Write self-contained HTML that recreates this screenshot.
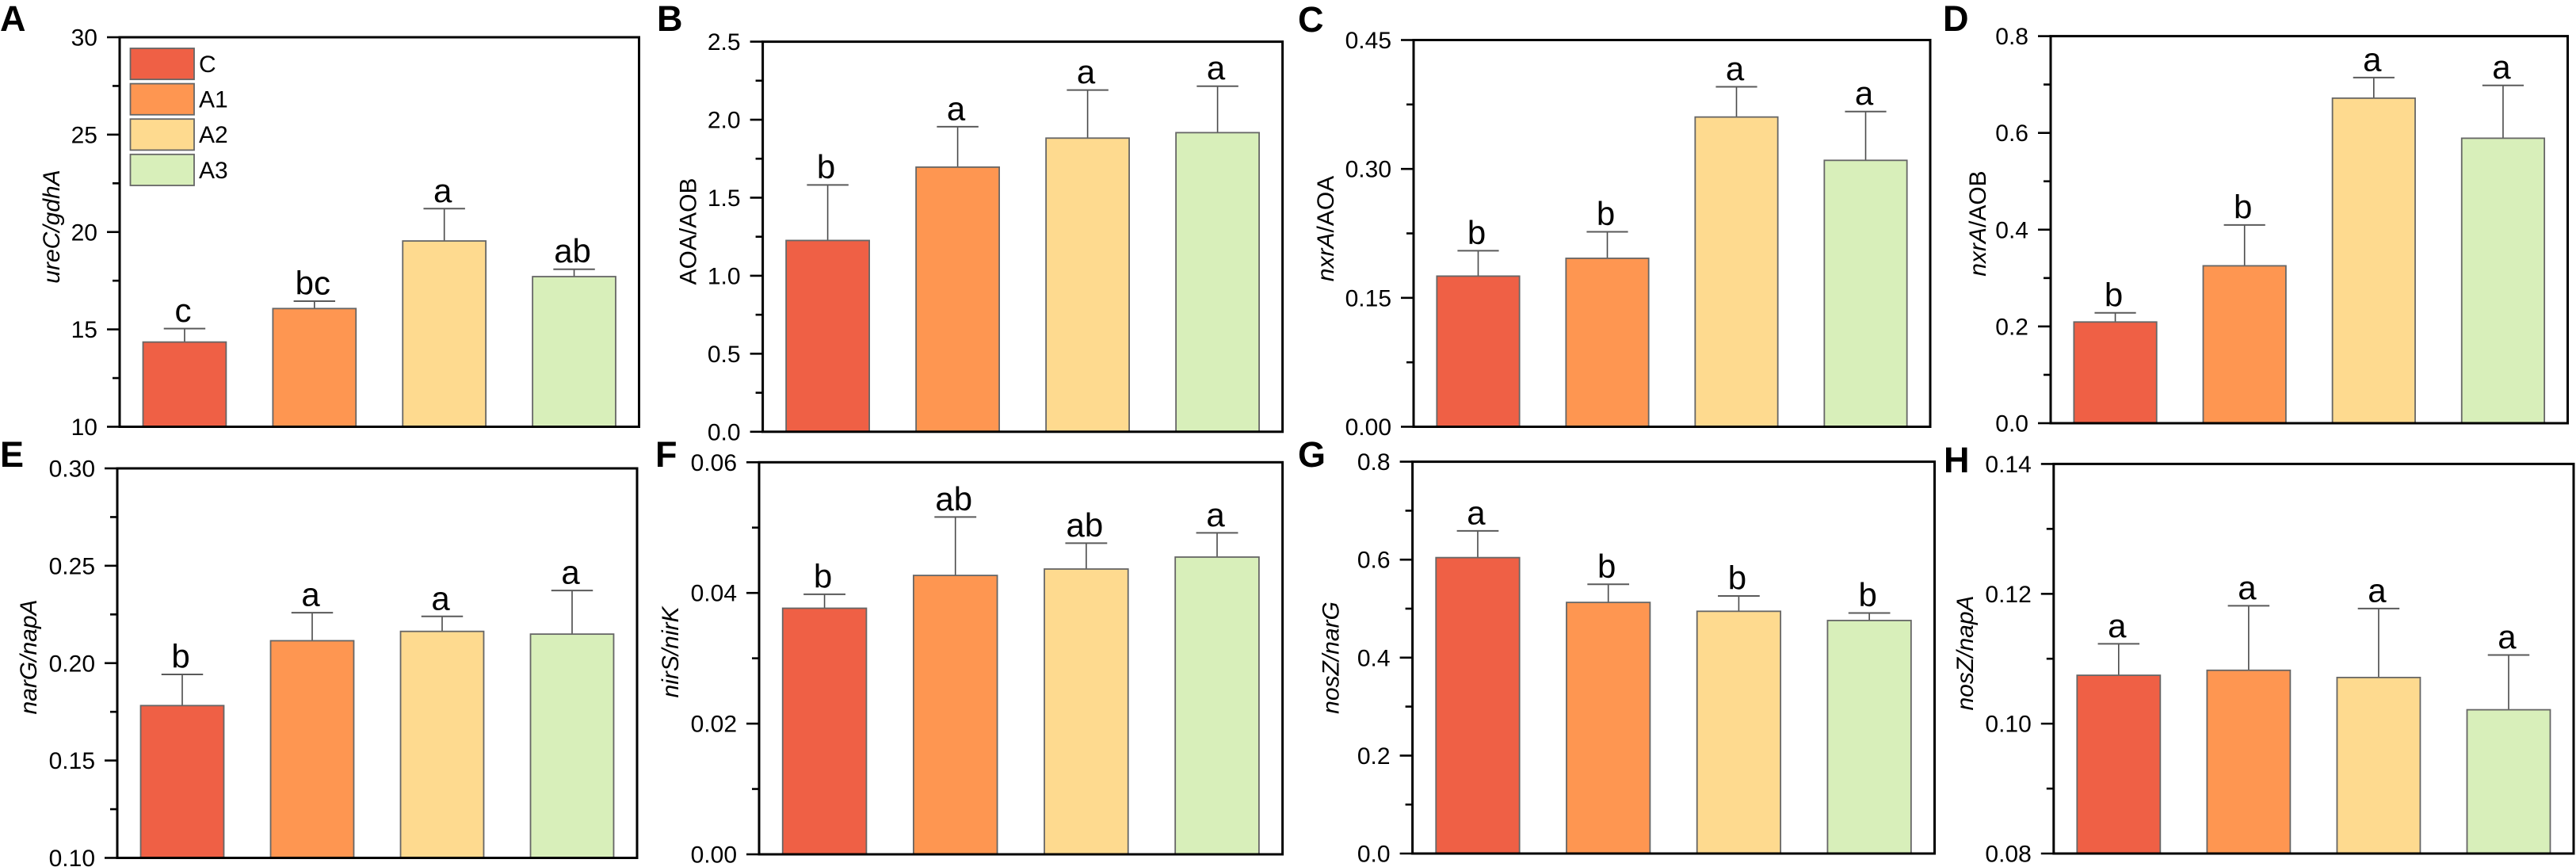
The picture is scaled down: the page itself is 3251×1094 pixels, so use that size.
<!DOCTYPE html>
<html lang="en">
<head>
<meta charset="utf-8">
<title>Gene abundance ratios by treatment</title>
<style>
html,body{margin:0;padding:0;background:#fff;width:3251px;height:1094px;overflow:hidden}
svg{display:block}
text{font-family:"Liberation Sans",Arial,sans-serif;fill:#000}
</style>
</head>
<body>
<svg id="figure" xmlns="http://www.w3.org/2000/svg" width="3251" height="1094" viewBox="0 0 3251 1094"></svg>
<script>
const categories = ['C', 'A1', 'A2', 'A3'];

const ticksA = ['10', '15', '20', '25', '30'];
const valuesA = [14.35, 16.07, 19.54, 17.71];
const errorsA = [0.69, 0.38, 1.66, 0.38];
const lettersA = ['c', 'bc', 'a', 'ab'];

const ticksB = ['0.0', '0.5', '1.0', '1.5', '2.0', '2.5'];
const valuesB = [1.226, 1.696, 1.882, 1.917];
const errorsB = [0.356, 0.259, 0.308, 0.298];
const lettersB = ['b', 'a', 'a', 'a'];

const ticksC = ['0.00', '0.15', '0.30', '0.45'];
const valuesC = [0.1753, 0.196, 0.3604, 0.31];
const errorsC = [0.0295, 0.0308, 0.0352, 0.0568];
const lettersC = ['b', 'b', 'a', 'a'];

const ticksD = ['0.0', '0.2', '0.4', '0.6', '0.8'];
const valuesD = [0.2092, 0.3253, 0.6718, 0.589];
const errorsD = [0.0188, 0.0845, 0.0426, 0.1093];
const lettersD = ['b', 'b', 'a', 'a'];

const ticksE = ['0.10', '0.15', '0.20', '0.25', '0.30'];
const valuesE = [0.1782, 0.2115, 0.2163, 0.2149];
const errorsE = [0.016, 0.0144, 0.0077, 0.0224];
const lettersE = ['b', 'a', 'a', 'a'];

const ticksF = ['0.00', '0.02', '0.04', '0.06'];
const valuesF = [0.03766, 0.04268, 0.04366, 0.04549];
const errorsF = [0.00213, 0.00894, 0.00396, 0.0037];
const lettersF = ['b', 'ab', 'ab', 'a'];

const ticksG = ['0.0', '0.2', '0.4', '0.6', '0.8'];
const valuesG = [0.6042, 0.5127, 0.4946, 0.4758];
const errorsG = [0.0545, 0.037, 0.0312, 0.0154];
const lettersG = ['a', 'b', 'b', 'b'];

const ticksH = ['0.08', '0.10', '0.12', '0.14'];
const valuesH = [0.10745, 0.10822, 0.10711, 0.10214];
const errorsH = [0.00484, 0.00994, 0.01062, 0.00844];
const lettersH = ['a', 'a', 'a', 'a'];

const barFill = ['#EF6045', '#FE9651', '#FEDA8F', '#D8EFBA'];

const panels = [
  {id:'a', tag:'A', tx:0, ty:39, ticks:ticksA, values:valuesA, errors:errorsA, letters:lettersA, left:151, right:806.5, top:47, bottom:538.5, italic:'ureC/gdhA', roman:'', titleX:75, titleY:286},
  {id:'b', tag:'B', tx:829, ty:39, ticks:ticksB, values:valuesB, errors:errorsB, letters:lettersB, left:962.6, right:1618.6, top:52.6, bottom:544.8, italic:'', roman:'AOA/AOB', titleX:878.6, titleY:292},
  {id:'c', tag:'C', tx:1638, ty:40, ticks:ticksC, values:valuesC, errors:errorsC, letters:lettersC, left:1784, right:2436, top:50.5, bottom:538.5, italic:'nxrA', roman:'/AOA', titleX:1683, titleY:288.5},
  {id:'d', tag:'D', tx:2452, ty:39, ticks:ticksD, values:valuesD, errors:errorsD, letters:lettersD, left:2588, right:3240.5, top:45.6, bottom:534, italic:'nxrA', roman:'/AOB', titleX:2506, titleY:282},
  {id:'e', tag:'E', tx:0, ty:589, ticks:ticksE, values:valuesE, errors:errorsE, letters:lettersE, left:148, right:804, top:591, bottom:1082.5, italic:'narG/napA', roman:'', titleX:46, titleY:829},
  {id:'f', tag:'F', tx:827, ty:589, ticks:ticksF, values:valuesF, errors:errorsF, letters:lettersF, left:958, right:1618.6, top:583.3, bottom:1078, italic:'nirS/nirK', roman:'', titleX:856, titleY:823},
  {id:'g', tag:'G', tx:1638, ty:589, ticks:ticksG, values:valuesG, errors:errorsG, letters:lettersG, left:1782.6, right:2441.5, top:582.6, bottom:1077, italic:'nosZ/narG', roman:'', titleX:1689.6, titleY:830},
  {id:'h', tag:'H', tx:2453, ty:596, ticks:ticksH, values:valuesH, errors:errorsH, letters:lettersH, left:2591.8, right:3248, top:585.4, bottom:1077, italic:'nosZ/napA', roman:'', titleX:2490, titleY:824}
];

const NS = 'http://www.w3.org/2000/svg';
const svg = document.getElementById('figure');

function mk(parent, tag, attrs, text) {
  const el = document.createElementNS(NS, tag);
  for (const k in attrs) el.setAttribute(k, attrs[k]);
  if (text !== undefined) el.textContent = text;
  parent.appendChild(el);
  return el;
}

function drawPanel(p) {
  const g = mk(svg, 'g', {});
  
  

  const lo = parseFloat(p.ticks[0]);
  const hi = parseFloat(p.ticks[p.ticks.length - 1]);
  const yScale = v => p.bottom - (v - lo) / (hi - lo) * (p.bottom - p.top);
  const band = (p.right - p.left) / categories.length;
  const xScale = i => p.left + band * (i + 0.5);
  const barW = band * 0.64;
  const capW = band * 0.32;

  const tag = mk(g, 'text', {x: p.tx, y: p.ty, 'font-size': 45, 'font-weight': 'bold'}, p.tag);
  
  

  p.values.forEach((v, i) => {
    const cx = xScale(i);
    const top = yScale(v);
    const errTop = yScale(v + p.errors[i]);

    const stem = mk(g, 'line', {x1: cx, x2: cx, y1: top, y2: errTop, stroke: '#4a4a4a', 'stroke-width': 1.6});
    
    

    const cap = mk(g, 'line', {x1: cx - capW / 2, x2: cx + capW / 2, y1: errTop, y2: errTop, stroke: '#5a5a5a', 'stroke-width': 2});
    
    

    const bar = mk(g, 'rect', {x: cx - barW / 2, y: top, width: barW, height: p.bottom - top, fill: barFill[i], stroke: '#666666', 'stroke-width': 1.8});
    
    

    const letter = mk(g, 'text', {x: cx - 2, y: errTop - 8.5, 'font-size': 42, 'text-anchor': 'middle'}, p.letters[i]);
    
    
  });

  const frame = mk(g, 'rect', {x: p.left, y: p.top, width: p.right - p.left, height: p.bottom - p.top, fill: 'none', stroke: '#000', 'stroke-width': 3});
  
  

  p.ticks.forEach((t, i) => {
    const val = parseFloat(t);
    const y = yScale(val);

    const tick = mk(g, 'line', {x1: p.left - 16, x2: p.left, y1: y, y2: y, stroke: '#000', 'stroke-width': 2.6});
    
    

    const label = mk(g, 'text', {x: p.left - 28, y: y + 10.5, 'font-size': 30, 'text-anchor': 'end'}, t);
    
    

    if (i < p.ticks.length - 1) {
      const my = yScale((val + parseFloat(p.ticks[i + 1])) / 2);
      const minor = mk(g, 'line', {x1: p.left - 9, x2: p.left, y1: my, y2: my, stroke: '#000', 'stroke-width': 2.6});
      
      
    }
  });

  const title = mk(g, 'text', {x: 0, y: 0, 'font-size': 30, 'text-anchor': 'middle', transform: 'translate(' + p.titleX + ' ' + p.titleY + ') rotate(-90)'});
  
  
  if (p.italic) mk(title, 'tspan', {'font-style': 'italic'}, p.italic);
  if (p.roman) mk(title, 'tspan', {}, p.roman);
}

panels.forEach(drawPanel);

const legend = mk(svg, 'g', {});


categories.forEach((c, i) => {
  const entryTop = 61 + i * 44.6;
  const swatch = mk(legend, 'rect', {x: 164.5, y: entryTop, width: 80.5, height: 39.2, fill: barFill[i], stroke: '#666666', 'stroke-width': 1.8});
  
  
  const label = mk(legend, 'text', {x: 251, y: entryTop + 30, 'font-size': 30}, c);
  
  
});
</script>
</body>
</html>
